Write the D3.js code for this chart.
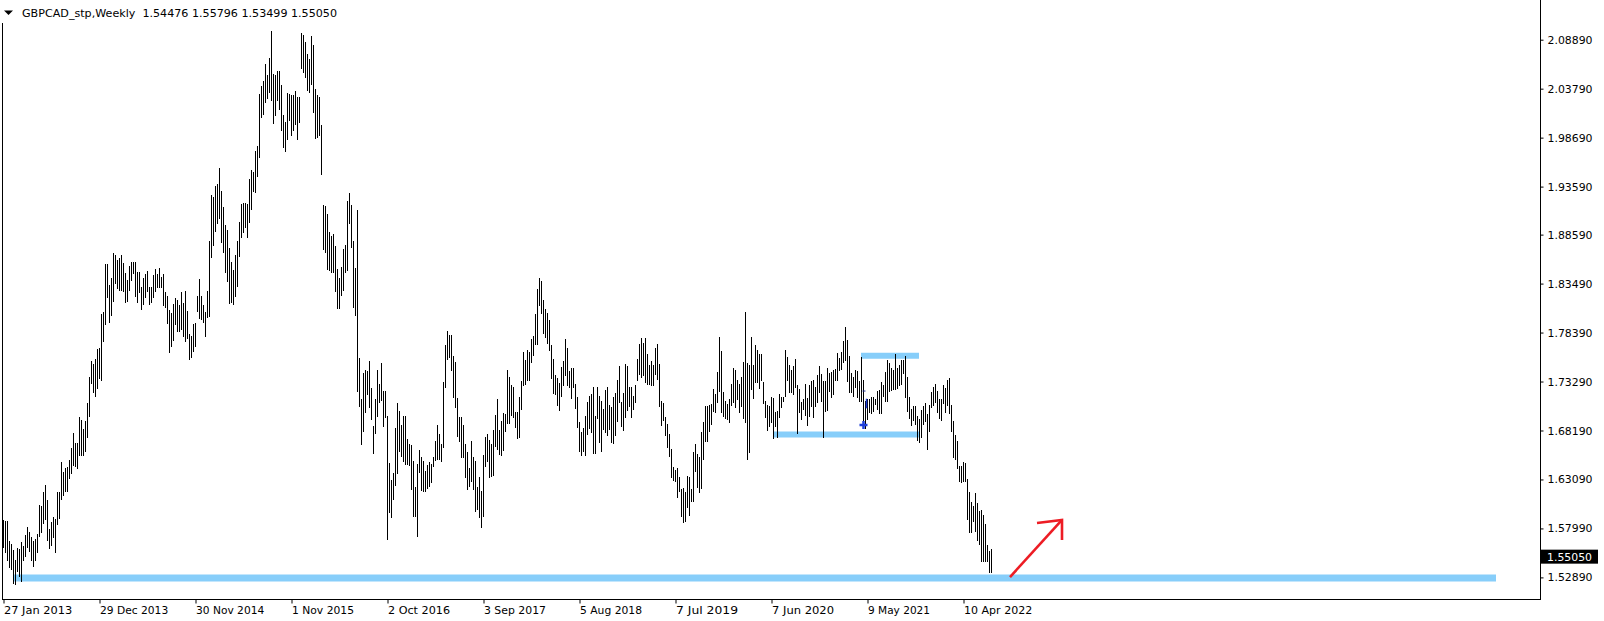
<!DOCTYPE html>
<html><head><meta charset="utf-8">
<script src="https://cdn.jsdelivr.net/npm/d3@7"></script>
<style>html,body{margin:0;padding:0;background:#fff;overflow:hidden}</style>
</head><body>
<script>
// ---------- data ----------
const symbolTitle = "GBPCAD_stp,Weekly";
const lastOHLC = ["1.54476", "1.55796", "1.53499", "1.55050"];
const lastPrice = 1.55050;
const firstWeek = "2013-01-27";

const highs = [
1.5887,1.5873,1.5873,1.5671,1.5636,1.5574,1.5469,1.5591,1.5584,1.5661,
1.5619,1.5730,1.5810,1.5758,1.5706,1.5664,1.5688,1.5741,1.6047,1.6036,
1.6175,1.6255,1.6095,1.5793,1.5862,1.5914,1.5897,1.6175,1.6175,1.6495,
1.6391,1.6429,1.6436,1.6512,1.6634,1.6797,1.6686,1.6686,1.6957,1.6930,
1.6836,1.6916,1.7110,1.7381,1.7541,1.7507,1.7566,1.7667,1.7680,1.8028,
1.8049,1.8550,1.8557,1.8338,1.8404,1.8668,1.8650,1.8591,1.8619,1.8647,
1.8564,1.8459,1.8390,1.8529,1.8574,1.8574,1.8570,1.8470,1.8466,1.8313,
1.8411,1.8452,1.8477,1.8313,1.8313,1.8442,1.8501,1.8452,1.8515,1.8418,
1.8452,1.8261,1.8216,1.8077,1.8042,1.8136,1.8195,1.8181,1.8125,1.8258,
1.8143,1.8275,1.8066,1.7820,1.7800,1.7927,1.7934,1.8223,1.8397,1.8216,
1.8125,1.8056,1.8268,1.8790,1.9273,1.9248,1.9363,1.9387,1.9551,1.9318,
1.9144,1.8960,1.8911,1.8716,1.8570,1.8494,1.8647,1.8793,1.8988,1.9179,
1.9186,1.9186,1.9179,1.9440,1.9527,1.9509,1.9735,1.9787,2.0326,2.0403,
2.0455,2.0639,2.0524,2.0702,2.0976,2.0535,2.0524,2.0559,2.0559,2.0413,
2.0100,2.0031,2.0337,2.0326,2.0316,2.0316,2.0357,2.0291,2.0291,2.0959,
2.0935,2.0865,2.0743,2.0691,2.0928,2.0830,2.0378,2.0316,2.0291,2.0000,
1.9168,1.9161,1.9075,1.8883,1.8849,1.8866,1.8737,1.8498,1.8407,1.8522,
1.8713,1.8748,1.9207,1.9297,1.9165,1.8790,1.8511,1.9120,1.7576,1.7149,
1.7416,1.7444,1.7434,1.7538,1.7263,1.6870,1.7149,1.7444,1.7305,1.7521,
1.7235,1.7235,1.6975,1.6481,1.6307,1.6377,1.6843,1.7110,1.7027,1.6881,
1.6975,1.6975,1.6731,1.6679,1.6672,1.6505,1.6234,1.6471,1.6617,1.6547,
1.6505,1.6401,1.6457,1.6495,1.6471,1.6540,1.6714,1.6881,1.6784,1.6679,
1.7329,1.7705,1.7851,1.7809,1.7809,1.7590,1.7531,1.7159,1.6957,1.6964,
1.6881,1.6679,1.6599,1.6429,1.6714,1.6547,1.6505,1.6234,1.6339,1.6193,
1.6568,1.6749,1.6784,1.6721,1.6679,1.6825,1.6985,1.7149,1.6825,1.6923,
1.7000,1.6992,1.7454,1.7375,1.7288,1.7270,1.7016,1.7016,1.7173,1.7333,
1.7632,1.7548,1.7653,1.7632,1.7774,1.7799,1.8035,1.8289,1.8411,1.8372,
1.8174,1.8087,1.8046,1.7972,1.7705,1.7559,1.7392,1.7364,1.7315,1.7479,
1.7538,1.7767,1.7680,1.7434,1.7468,1.7468,1.7305,1.7166,1.6912,1.6801,
1.6843,1.6975,1.7114,1.7183,1.7194,1.7277,1.6975,1.7277,1.7183,1.7124,
1.7044,1.7242,1.7277,1.7089,1.7062,1.7166,1.7208,1.7340,1.7486,1.7114,
1.7208,1.7514,1.7486,1.7270,1.7270,1.7183,1.7288,1.7566,1.7715,1.7785,
1.7729,1.7785,1.7611,1.7503,1.7541,1.7496,1.7680,1.7722,1.7507,1.7124,
1.7103,1.6957,1.6888,1.6783,1.6627,1.6440,1.6408,1.6429,1.6332,1.6210,
1.6217,1.6182,1.6349,1.6339,1.6210,1.6599,1.6679,1.6575,1.6540,1.6808,
1.6905,1.7079,1.7079,1.7089,1.7096,1.7253,1.7201,1.7427,1.7792,1.7642,
1.7218,1.7131,1.7096,1.7149,1.7305,1.7472,1.7451,1.7340,1.7305,1.7374,
1.7531,1.8052,1.7520,1.7496,1.7792,1.7496,1.7705,1.7653,1.7618,1.7611,
1.7322,1.7121,1.7089,1.7079,1.7166,1.7159,1.7009,1.7027,1.7194,1.7173,
1.7166,1.7660,1.7583,1.7496,1.7451,1.7486,1.7566,1.7288,1.7253,1.7114,
1.7149,1.7305,1.7155,1.7298,1.7333,1.7347,1.7270,1.7392,1.7486,1.7409,
1.7333,1.7333,1.7472,1.7416,1.7427,1.7444,1.7461,1.7625,1.7573,1.7635,
1.7747,1.7895,1.7764,1.7600,1.7416,1.7381,1.7444,1.7434,1.7333,1.7583,
1.7347,1.7124,1.7148,1.7148,1.7166,1.7166,1.7148,1.7235,1.7242,1.7322,
1.7288,1.7427,1.7555,1.7521,1.7472,1.7444,1.7618,1.7472,1.7496,1.7555,
1.7555,1.7590,1.7374,1.7166,1.7044,1.7079,1.7079,1.6975,1.6940,1.7034,
1.7079,1.7103,1.6992,1.7089,1.7225,1.7277,1.7305,1.7228,1.7148,1.7148,
1.7298,1.7263,1.7340,1.7368,1.7089,1.6916,1.6777,1.6714,1.6453,1.6453,
1.6495,1.6478,1.6314,1.6182,1.6078,1.6036,1.6168,1.6064,1.5984,1.5994,
1.5942,1.5845,1.5626,1.5567,1.55796
];

const lows = [
1.5608,1.5549,1.5473,1.5393,1.5376,1.5226,1.5219,1.5351,1.5306,1.5247,
1.5473,1.5515,1.5601,1.5567,1.5469,1.5410,1.5469,1.5549,1.5716,1.5765,
1.5852,1.5897,1.5678,1.5594,1.5629,1.5706,1.5549,1.5845,1.5904,1.6106,
1.6151,1.6186,1.6186,1.6325,1.6373,1.6464,1.6453,1.6429,1.6568,1.6568,
1.6565,1.6610,1.6749,1.6968,1.7312,1.7218,1.7176,1.7260,1.7361,1.7347,
1.7750,1.7924,1.8209,1.7948,1.8021,1.8167,1.8355,1.8306,1.8278,1.8278,
1.8271,1.8157,1.8167,1.8278,1.8390,1.8459,1.8219,1.8157,1.8261,1.8084,
1.8139,1.8209,1.8271,1.8136,1.8157,1.8209,1.8271,1.8313,1.8310,1.8313,
1.8122,1.8105,1.7938,1.7635,1.7700,1.7760,1.7927,1.7858,1.7858,1.7875,
1.7800,1.7750,1.7780,1.7560,1.7580,1.7650,1.7700,1.8066,1.7986,1.7979,
1.7952,1.7800,1.7997,1.8014,1.8623,1.8751,1.8901,1.8977,1.9029,1.8779,
1.8675,1.8466,1.8379,1.8143,1.8153,1.8136,1.8223,1.8327,1.8640,1.8831,
1.8883,1.8936,1.8831,1.8988,1.9127,1.9318,1.9301,1.9467,1.9666,2.0083,
2.0117,2.0239,2.0281,2.0344,2.0257,2.0024,2.0100,2.0257,2.0170,1.9944,
1.9770,1.9725,1.9850,2.0048,1.9892,1.9944,2.0013,1.9850,2.0031,2.0594,
2.0552,2.0500,2.0361,2.0344,2.0430,2.0135,1.9864,1.9874,1.9892,1.9492,
1.8710,1.8675,1.8501,1.8494,1.8466,1.8466,1.8272,1.8098,1.8098,1.8233,
1.8285,1.8470,1.8494,1.8981,1.8730,1.8105,1.8025,1.7235,1.7072,1.6679,
1.6818,1.7010,1.7201,1.7062,1.6940,1.6582,1.6790,1.6975,1.7114,1.7138,
1.6870,1.6957,1.5688,1.5967,1.5914,1.6106,1.6252,1.6373,1.6610,1.6554,
1.6505,1.6471,1.6471,1.6464,1.6210,1.5925,1.5925,1.5716,1.6384,1.6199,
1.6193,1.6186,1.6220,1.6245,1.6279,1.6453,1.6516,1.6523,1.6523,1.6505,
1.6644,1.7270,1.7566,1.7583,1.7444,1.7173,1.7062,1.6766,1.6714,1.6540,
1.6540,1.6332,1.6210,1.6245,1.6297,1.6210,1.5984,1.6001,1.5914,1.5810,
1.5932,1.6453,1.6505,1.6332,1.6349,1.6359,1.6662,1.6627,1.6575,1.6568,
1.6620,1.6818,1.6895,1.6895,1.6985,1.6957,1.6853,1.6738,1.6756,1.7041,
1.7288,1.7305,1.7347,1.7340,1.7531,1.7601,1.7715,1.7722,1.8122,1.8042,
1.7833,1.7792,1.7729,1.7653,1.7364,1.7208,1.7201,1.7089,1.7037,1.7183,
1.7288,1.7402,1.7298,1.7277,1.7155,1.7277,1.7051,1.6853,1.6610,1.6568,
1.6610,1.6568,1.6783,1.6843,1.6801,1.6582,1.6582,1.6950,1.6697,1.6610,
1.6836,1.6801,1.6776,1.6836,1.6697,1.6686,1.6773,1.6923,1.7114,1.6870,
1.6825,1.6964,1.7034,1.7072,1.6957,1.7044,1.7114,1.7340,1.7409,1.7375,
1.7402,1.7322,1.7305,1.7305,1.7298,1.7298,1.7409,1.7357,1.7079,1.6881,
1.6929,1.6776,1.6651,1.6558,1.6338,1.6300,1.6297,1.6123,1.6192,1.5932,
1.5862,1.5880,1.6026,1.5942,1.6081,1.6081,1.6401,1.6227,1.6175,1.6220,
1.6523,1.6707,1.6714,1.6818,1.6888,1.7020,1.7016,1.7114,1.7235,1.7009,
1.6975,1.6947,1.6940,1.6912,1.7086,1.7114,1.7062,1.7149,1.7009,1.7079,
1.6950,1.6905,1.6523,1.6592,1.7253,1.7159,1.7322,1.7329,1.7260,1.7347,
1.7103,1.6957,1.6825,1.6870,1.6905,1.6742,1.6870,1.6756,1.6964,1.7062,
1.7131,1.7183,1.7340,1.7218,1.7218,1.7201,1.7270,1.6790,1.7009,1.6940,
1.7044,1.6982,1.6881,1.6975,1.7079,1.6957,1.7079,1.7114,1.7218,1.7131,
1.6749,1.7027,1.7034,1.7235,1.7173,1.7194,1.7347,1.7340,1.7444,1.7461,
1.7531,1.7548,1.7333,1.7225,1.7218,1.7183,1.7277,1.7166,1.7124,1.7124,
1.6916,1.6846,1.6940,1.7009,1.6999,1.7027,1.7096,1.7044,1.6999,1.6999,
1.7183,1.7131,1.7131,1.7235,1.7242,1.7253,1.7253,1.7263,1.7288,1.7305,
1.7416,1.7166,1.7027,1.6950,1.6881,1.6930,1.6888,1.6721,1.6697,1.6756,
1.6888,1.6916,1.6627,1.6818,1.7062,1.7089,1.7114,1.7009,1.6950,1.6930,
1.7103,1.7009,1.7089,1.6999,1.6811,1.6547,1.6523,1.6429,1.6297,1.6279,
1.6297,1.6297,1.5897,1.5758,1.5758,1.5880,1.5775,1.5678,1.5636,1.5455,
1.5462,1.5462,1.5462,1.5341,1.53499
];

const priceTickLabels = ["2.08890","2.03790","1.98690","1.93590","1.88590","1.83490","1.78390","1.73290","1.68190","1.63090","1.57990","1.52890"];
const timeTickLabels = ["27 Jan 2013","29 Dec 2013","30 Nov 2014","1 Nov 2015","2 Oct 2016","3 Sep 2017","5 Aug 2018","7 Jul 2019","7 Jun 2020","9 May 2021","10 Apr 2022"];

// horizontal levels drawn by the trader: price, start week index, end week index
const levelPrices = [1.5283, 1.6776, 1.7597];
const levelStartWeeks = [5.25, 385.25, 428.75];
const levelEndWeeks = [746.25, 457.75, 457.75];
const levelWidths = [7, 6, 6];

// red arrow (week index, price)
const arrowWeeks = [503.25, 529.25];
const arrowPrices = [1.5293, 1.5887];
const arrowHeadWeeks = [516.75, 529.25, 529.25];
const arrowHeadPrices = [1.5856, 1.5887, 1.5679];

// ---------- layout ----------
const W = 1604, H = 621;
const plotLeft = 2, plotRight = 1540, plotBottom = 599;
const parseDay = d3.utcParse("%Y-%m-%d");
const parseLabel = d3.utcParse("%d %b %Y");
const fmtLabel = d3.utcFormat("%-d %b %Y");
const t0 = parseDay(firstWeek);
const weekDateExact = k => new Date(t0.getTime() + k * 7 * 864e5);

const x = d3.scaleUtc()
  .domain([t0, parseLabel("10 Apr 2022")])
  .range([3.5, 963.5]);
const y = d3.scaleLinear()
  .domain([1.52890, 2.08890])
  .range([577.4, 39.7]);

const svg = d3.select("body").append("svg")
  .attr("width", W).attr("height", H)
  .style("display", "block")
  .style("font-family", "Tahoma, 'DejaVu Sans', sans-serif");

svg.append("rect").attr("width", W).attr("height", H).attr("fill", "#fff");

const plot = svg.append("g");

// levels (under bars)
levelPrices.forEach((p, i) => {
  plot.append("line")
    .attr("x1", x(weekDateExact(levelStartWeeks[i])))
    .attr("x2", x(weekDateExact(levelEndWeeks[i])))
    .attr("y1", y(p)).attr("y2", y(p))
    .attr("stroke", "#87CEFA")
    .attr("stroke-width", levelWidths[i]);
});

// bars
const bars = highs.map((h, k) => ({ date: weekDateExact(k), high: h, low: lows[k] }));
plot.append("g")
  .attr("stroke", "#000")
  .attr("stroke-width", 1)
  .attr("shape-rendering", "crispEdges")
  .selectAll("line").data(bars).join("line")
  .attr("x1", d => x(d.date)).attr("x2", d => x(d.date))
  .attr("y1", d => y(d.high)).attr("y2", d => y(d.low) + 1);

// trade markers near the 2021 range
const mk = weekDateExact(430);
plot.append("path")
  .attr("d", `M${x(mk) - 4},${y(1.6875)}h8M${x(mk)},${y(1.6875) - 4}v8`)
  .attr("stroke", "#1f3fd8").attr("stroke-width", 2.5);
plot.append("line")
  .attr("x1", x(weekDateExact(431.5))).attr("x2", x(weekDateExact(431.5)))
  .attr("y1", y(1.7150)).attr("y2", y(1.7050))
  .attr("stroke", "#1f3fd8").attr("stroke-width", 1.5);
plot.append("line")
  .attr("x1", x(weekDateExact(429.5))).attr("x2", x(weekDateExact(431)))
  .attr("y1", y(1.7230)).attr("y2", y(1.7230))
  .attr("stroke", "#1a2a8a").attr("stroke-width", 1);

// red arrow
const ap = arrowWeeks.map((k, i) => [x(weekDateExact(k)), y(arrowPrices[i])]);
const hp = arrowHeadWeeks.map((k, i) => [x(weekDateExact(k)), y(arrowHeadPrices[i])]);
plot.append("path")
  .attr("d", d3.line()(ap))
  .attr("stroke", "#ED1C24").attr("stroke-width", 2.6).attr("fill", "none");
plot.append("path")
  .attr("d", d3.line()(hp))
  .attr("stroke", "#ED1C24").attr("stroke-width", 2.6).attr("fill", "none");

// frame
svg.append("line").attr("x1", plotLeft + 0.5).attr("x2", plotLeft + 0.5).attr("y1", 23).attr("y2", plotBottom + 0.5)
  .attr("stroke", "#000");
svg.append("line").attr("x1", plotLeft).attr("x2", plotRight + 1).attr("y1", plotBottom + 0.5).attr("y2", plotBottom + 0.5)
  .attr("stroke", "#000");
svg.append("line").attr("x1", plotRight + 0.5).attr("x2", plotRight + 0.5).attr("y1", 0).attr("y2", plotBottom + 1)
  .attr("stroke", "#000");

// price axis
const yAxis = d3.axisRight(y)
  .tickValues(priceTickLabels.map(Number))
  .tickFormat((d, i) => priceTickLabels[i])
  .tickSize(3).tickPadding(4);
const ga = svg.append("g").attr("transform", `translate(${plotRight + 0.5},0)`).call(yAxis);
ga.select(".domain").remove();
ga.selectAll("text").attr("font-size", 11).attr("fill", "#000")
  .style("font-family", "'DejaVu Sans', sans-serif").attr("textLength", 45).attr("lengthAdjust", "spacingAndGlyphs");
ga.selectAll("line").attr("stroke", "#000");

// current price box
const cy = y(lastPrice);
svg.append("rect").attr("x", 1541).attr("y", cy - 7).attr("width", 57).attr("height", 14).attr("fill", "#000");
svg.append("text").attr("x", 1547).attr("y", cy).attr("dy", "0.35em")
  .attr("fill", "#fff").attr("font-size", 11).style("font-family", "'DejaVu Sans', sans-serif")
  .attr("textLength", 45).attr("lengthAdjust", "spacingAndGlyphs")
  .text(lastOHLC[3]);

// time axis
const xAxis = d3.axisBottom(x)
  .tickValues(timeTickLabels.map(s => parseLabel(s)))
  .tickFormat(fmtLabel)
  .tickSize(4).tickPadding(3);
const gx = svg.append("g").attr("transform", `translate(0,${plotBottom + 0.5})`).call(xAxis);
gx.select(".domain").remove();
gx.selectAll("line").attr("stroke", "#000");
gx.selectAll("text").attr("text-anchor", "start").attr("font-size", 11).attr("fill", "#000")
  .style("font-family", "'DejaVu Sans', sans-serif").attr("dy", "0.71em")
  .attr("textLength", function () { return this.textContent.length * 6.2; })
  .attr("lengthAdjust", "spacingAndGlyphs");

// header
svg.append("path").attr("d", "M4,10.5L13,10.5L8.5,15Z").attr("fill", "#000");
svg.append("text").attr("x", 22).attr("y", 17).attr("font-size", 11)
  .style("font-family", "'DejaVu Sans', sans-serif")
  .attr("textLength", 315).attr("lengthAdjust", "spacingAndGlyphs")
  .text(symbolTitle + "  " + lastOHLC.join(" "))
  .attr("xml:space", "preserve").style("white-space", "pre");
</script>
</body></html>
